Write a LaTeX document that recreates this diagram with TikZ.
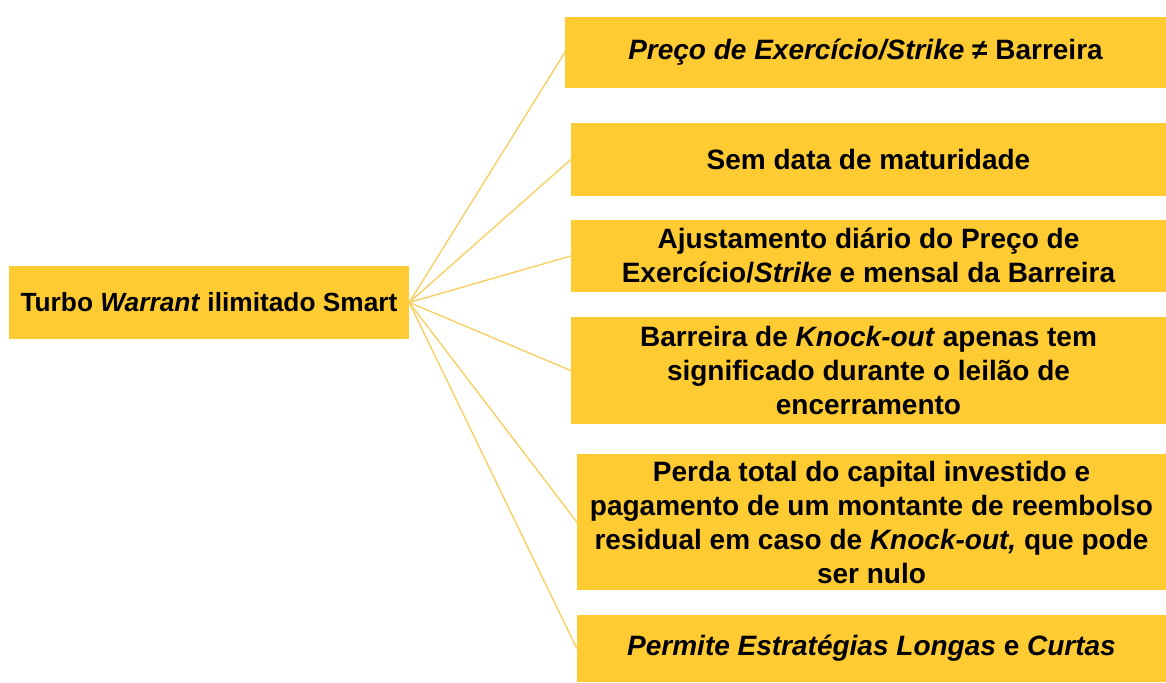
\documentclass[tikz,border=0pt]{standalone}
\usepackage{fontspec}
\setmainfont{Liberation Sans}
\definecolor{boxfill}{RGB}{255,203,51}
\definecolor{linkcol}{RGB}{248,208,100}
\begin{document}
\begin{tikzpicture}[x=1pt,y=-1pt,
  box/.style={rectangle, fill=boxfill, inner sep=0pt, align=center,
    font=\fontsize{28}{34}\selectfont\bfseries},
  link/.style={draw=linkcol, line width=1.4pt}]
\useasboundingbox (0,0) rectangle (1166,682);
\fill[white] (0,0) rectangle (1166,682);
\node[box, minimum width=400pt, minimum height=73pt, font=\fontsize{26.3}{32}\selectfont\bfseries] (root) at (209,302.5) {Turbo \textit{Warrant} ilimitado Smart};
\node[box, minimum width=601pt, minimum height=71pt] (b1) at (865.5,52.5) {\textit{Preço de Exercício/Strike} ≠ Barreira};
\node[box, minimum width=595pt, minimum height=73pt] (b2) at (868.5,159.5) {Sem data de maturidade};
\node[box, minimum width=595pt, minimum height=72pt] (b3) at (868.5,256) {Ajustamento diário do Preço de\\Exercício/\textit{Strike} e mensal da Barreira};
\node[box, minimum width=595pt, minimum height=107pt] (b4) at (868.5,370.5) {Barreira de \textit{Knock-out} apenas tem\\significado durante o leilão de\\encerramento};
\node[box, minimum width=589pt, minimum height=136pt] (b5) at (871.5,522) {Perda total do capital investido e\\pagamento de um montante de reembolso\\residual em caso de \textit{Knock-out,} que pode\\ser nulo};
\node[box, minimum width=589pt, minimum height=67pt] (b6) at (871.5,648.5) {\textit{Permite Estratégias Longas} e \textit{Curtas}};
\foreach \b in {b1,b2,b3,b4,b5,b6}
  \draw[link] (root.east) -- (\b.west);
\end{tikzpicture}
\end{document}
